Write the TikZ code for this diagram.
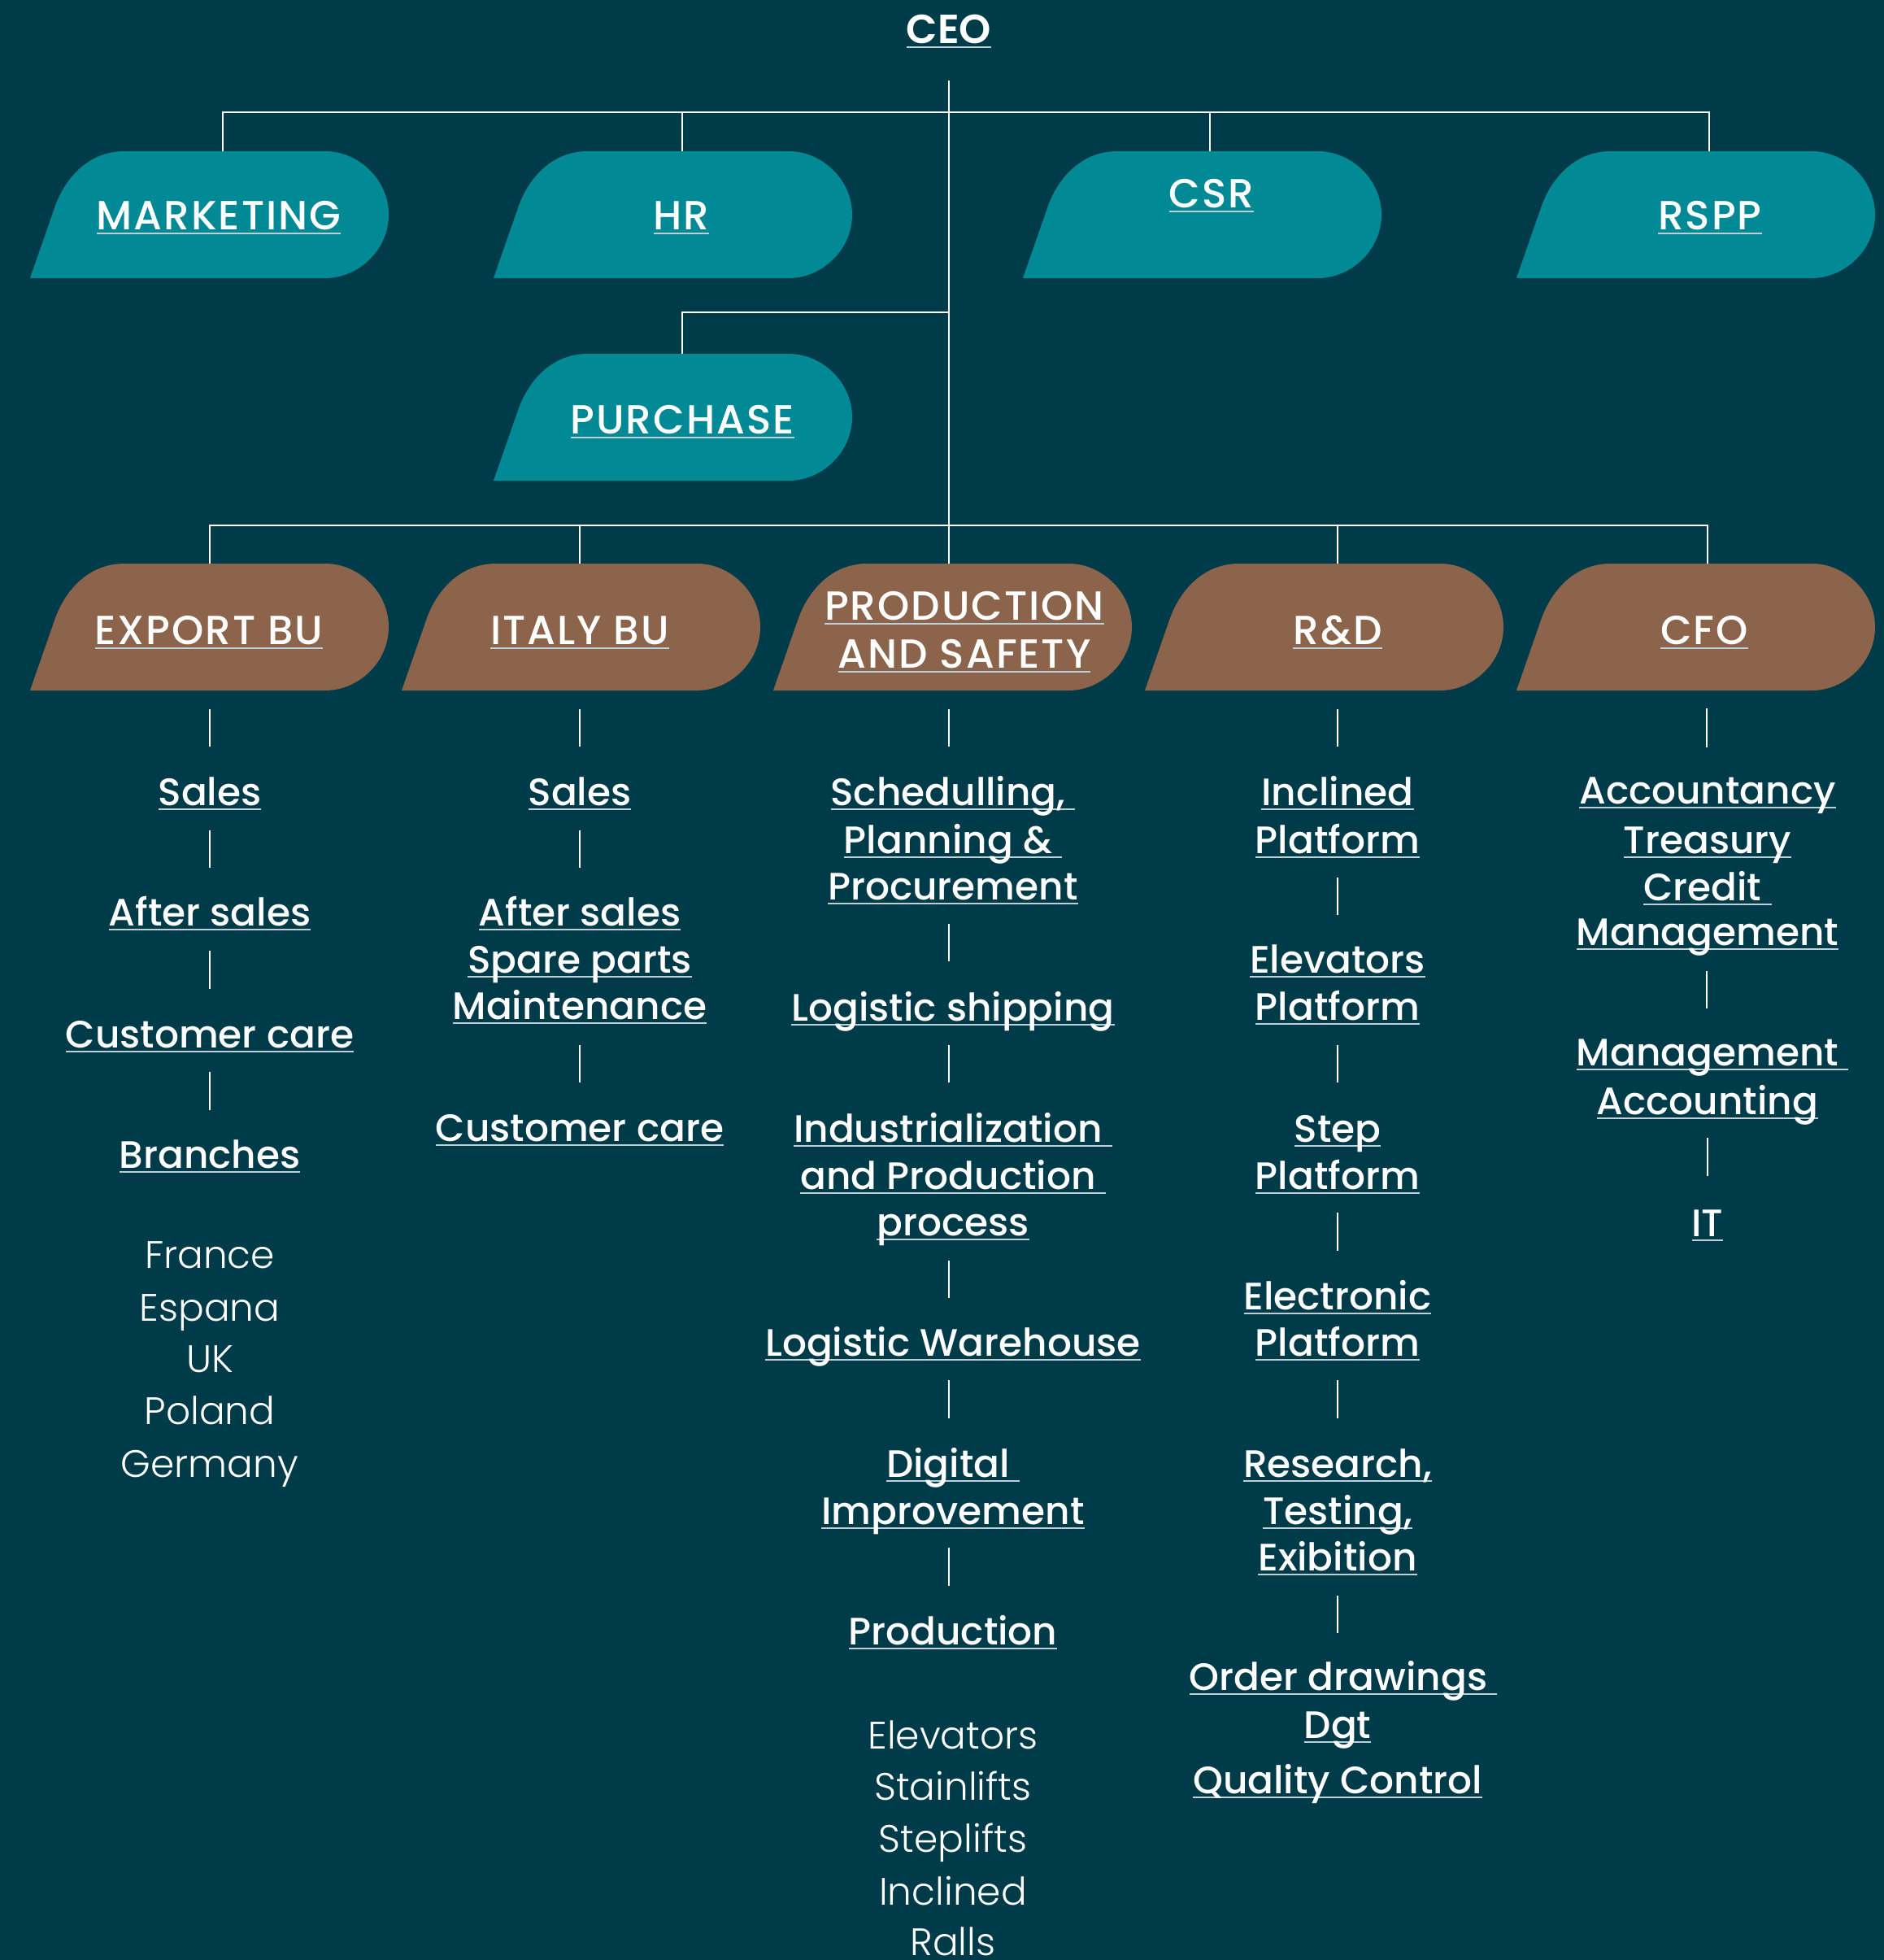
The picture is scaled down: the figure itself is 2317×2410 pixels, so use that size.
\documentclass[tikz,border=0pt]{standalone}
\usepackage{fontspec}
\setmainfont{Poppins}
\newfontfamily\fmed{Poppins Medium}
\newfontfamily\fheadfont{Poppins Medium}[LetterSpace=4]
\newfontfamily\flight{Poppins Light}
\newfontfamily\fsemi{Poppins SemiBold}
\definecolor{bg}{RGB}{0,59,74}
\definecolor{deptteal}{RGB}{1,138,150}
\definecolor{deptbrown}{RGB}{139,100,75}
\definecolor{ulc}{RGB}{190,208,214}
\newcommand\ul[1]{\setbox0\hbox{#1}\rlap{\color{ulc}\rule[-6pt]{\wd0}{1.8pt}}\box0}
\tikzset{
  conn/.style={draw=white, line width=2.6pt},
  barline/.style={draw=white, line width=2.6pt},
  item/.style={text=white, font=\fmed\fontsize{47}{58}\selectfont, anchor=base, inner sep=0pt},
  plain/.style={text=white, font=\flight\fontsize{47}{58}\selectfont, anchor=base, inner sep=0pt},
  head/.style={text=white, font=\fheadfont\fontsize{50}{58}\selectfont, anchor=base, inner sep=0pt},
  ceostyle/.style={text=white, font=\fsemi\fontsize{50}{58}\selectfont, anchor=base, inner sep=0pt},
  boxarea/.style={minimum width=441pt, minimum height=156pt, inner sep=0pt, anchor=north west}
}
\newcommand\deptbox[4]{%
  \fill[#4] (#2,#3+156) -- (#2+31,#3+67) .. controls (#2+43,#3+34) and (#2+71,#3) .. (#2+116,#3)
    -- (#2+363,#3) .. controls (#2+404,#3) and (#2+441,#3+35) .. (#2+441,#3+78)
    .. controls (#2+441,#3+121) and (#2+404,#3+156) .. (#2+363,#3+156) -- cycle;
  \node[boxarea] (#1) at (#2,#3) {};}
\newcommand\vbar[4]{\coordinate (#1a) at (#2,#3); \coordinate (#1b) at (#2,#4); \draw[barline] (#1a) -- (#1b);}
\newcommand\itm[4]{\node[item] (#1) at (#2,#3) {\ul{#4}};}
\newcommand\pln[4]{\node[plain] (#1) at (#2,#3) {#4};}
\newcommand\hd[4]{\node[head] (#1) at (#2,#3) {\ul{#4}};}
\begin{document}
\begin{tikzpicture}[x=1pt,y=-1pt]
\fill[bg] (0,0) rectangle (2317,2410);
\useasboundingbox (0,0) rectangle (2317,2410);

% CEO
\node[ceostyle] (ceo) at (1167,53) {\ul{CEO}};

% boxes
\deptbox{mkt}{37}{186}{deptteal}
\deptbox{hr}{607}{186}{deptteal}
\deptbox{csr}{1258}{186}{deptteal}
\deptbox{rspp}{1865}{186}{deptteal}
\deptbox{pur}{607}{435}{deptteal}
\deptbox{exp}{37}{693}{deptbrown}
\deptbox{ita}{494}{693}{deptbrown}
\deptbox{prod}{951}{693}{deptbrown}
\deptbox{rd}{1408}{693}{deptbrown}
\deptbox{cfo}{1865}{693}{deptbrown}

\hd{mktl}{269}{282}{MARKETING}
\hd{hrl}{838}{282}{HR}
\hd{csrl}{1490}{255}{CSR}
\hd{rsppl}{2103}{282}{RSPP}
\hd{purl}{839}{533}{PURCHASE}
\hd{expl}{257}{792}{EXPORT BU}
\hd{ital}{713}{792}{ITALY BU}
\hd{prodl1}{1186}{762}{PRODUCTION}
\hd{prodl2}{1186}{821}{AND SAFETY}
\hd{rdl}{1645}{792}{R\&D}
\hd{cfol}{2096}{792}{CFO}

% connectors
\coordinate (ceo-out) at (1167,99);
\coordinate (bus1) at (1167,138);
\coordinate (busp) at (1167,384);
\coordinate (bus2) at (1167,646);
\coordinate (mkt-in) at (274,186);
\coordinate (hr-in) at (839,186);
\coordinate (csr-in) at (1488,186);
\coordinate (rspp-in) at (2102,186);
\coordinate (pur-in) at (839,435);
\coordinate (exp-in) at (258,693);
\coordinate (ita-in) at (713,693);
\coordinate (prod-in) at (1167,693);
\coordinate (rd-in) at (1645,693);
\coordinate (cfo-in) at (2100,693);
\draw[conn] (ceo-out) -- (bus2);
\draw[conn] (mkt-in) |- (bus1);
\draw[conn] (hr-in) |- (bus1);
\draw[conn] (csr-in) |- (bus1);
\draw[conn] (rspp-in) |- (bus1);
\draw[conn] (pur-in) |- (busp);
\draw[conn] (exp-in) |- (bus2);
\draw[conn] (ita-in) |- (bus2);
\draw[conn] (prod-in) -- (bus2);
\draw[conn] (rd-in) |- (bus2);
\draw[conn] (cfo-in) |- (bus2);

% column 1: EXPORT BU
\vbar{c1b1}{258}{872}{918}
\itm{c1s}{258}{990}{Sales}
\vbar{c1b2}{258}{1021}{1067}
\itm{c1a}{258}{1138}{After sales}
\vbar{c1b3}{258}{1169}{1216}
\itm{c1c}{258}{1288}{Customer care}
\vbar{c1b4}{258}{1318}{1365}
\itm{c1br}{258}{1436}{Branches}
\pln{c1p1}{258}{1559}{France}
\pln{c1p2}{258}{1624}{Espana}
\pln{c1p3}{258}{1687}{UK}
\pln{c1p4}{258}{1751}{Poland}
\pln{c1p5}{258}{1816}{Germany}

% column 2: ITALY BU
\vbar{c2b1}{713}{872}{918}
\itm{c2s}{713}{990}{Sales}
\vbar{c2b2}{713}{1021}{1067}
\itm{c2a1}{713}{1138}{After sales}
\itm{c2a2}{713}{1196}{Spare parts}
\itm{c2a3}{713}{1253}{Maintenance}
\vbar{c2b3}{713}{1285}{1331}
\itm{c2c}{713}{1403}{Customer care}

% column 3: PRODUCTION AND SAFETY
\vbar{c3b1}{1167}{872}{918}
\itm{c3a1}{1172}{990}{Schedulling, }
\itm{c3a2}{1172}{1049}{Planning \& }
\itm{c3a3}{1172}{1106}{Procurement}
\vbar{c3b2}{1167}{1136}{1182}
\itm{c3l}{1172}{1255}{Logistic shipping}
\vbar{c3b3}{1167}{1285}{1331}
\itm{c3i1}{1172}{1404}{Industrialization }
\itm{c3i2}{1172}{1462}{and Production }
\itm{c3i3}{1172}{1519}{process}
\vbar{c3b4}{1167}{1550}{1596}
\itm{c3w}{1172}{1667}{Logistic Warehouse}
\vbar{c3b5}{1167}{1697}{1744}
\itm{c3d1}{1172}{1816}{Digital }
\itm{c3d2}{1172}{1874}{Improvement}
\vbar{c3b6}{1167}{1903}{1950}
\itm{c3p}{1172}{2022}{Production}
\pln{c3q1}{1172}{2150}{Elevators}
\pln{c3q2}{1172}{2213}{Stainlifts}
\pln{c3q3}{1172}{2277}{Steplifts}
\pln{c3q4}{1172}{2342}{Inclined}
\pln{c3q5}{1172}{2404}{Ralls}

% column 4: R&D
\vbar{c4b1}{1645}{872}{918}
\itm{c4a1}{1645}{990}{Inclined}
\itm{c4a2}{1645}{1049}{Platform}
\vbar{c4b2}{1645}{1079}{1125}
\itm{c4e1}{1645}{1196}{Elevators}
\itm{c4e2}{1645}{1254}{Platform}
\vbar{c4b3}{1645}{1285}{1331}
\itm{c4s1}{1645}{1404}{Step}
\itm{c4s2}{1645}{1462}{Platform}
\vbar{c4b4}{1645}{1491}{1538}
\itm{c4l1}{1645}{1610}{Electronic}
\itm{c4l2}{1645}{1667}{Platform}
\vbar{c4b5}{1645}{1697}{1744}
\itm{c4r1}{1645}{1816}{Research,}
\itm{c4r2}{1645}{1874}{Testing,}
\itm{c4r3}{1645}{1931}{Exibition}
\vbar{c4b6}{1645}{1962}{2008}
\itm{c4o1}{1652}{2078}{Order drawings }
\itm{c4o2}{1645}{2137}{Dgt}
\itm{c4q}{1645}{2205}{Quality Control}

% column 5: CFO
\vbar{c5b1}{2099}{871}{919}
\itm{c5a1}{2100}{988}{Accountancy}
\itm{c5a2}{2100}{1049}{Treasury}
\itm{c5a3}{2100}{1107}{Credit }
\itm{c5a4}{2100}{1162}{Management}
\vbar{c5b2}{2099}{1194}{1240}
\itm{c5m1}{2106}{1310}{Management }
\itm{c5m2}{2100}{1370}{Accounting}
\vbar{c5b3}{2100}{1399}{1446}
\itm{c5it}{2100}{1520}{IT}
\end{tikzpicture}
\end{document}
